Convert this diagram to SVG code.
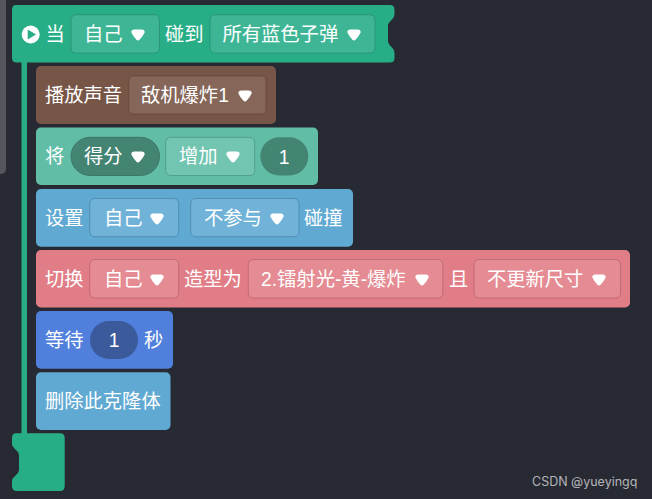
<svg xmlns="http://www.w3.org/2000/svg" width="652" height="499" viewBox="0 0 652 499">
<style>
text{font-family:"Noto Sans CJK SC","Liberation Sans",sans-serif;font-size:19.3px;fill:#fff}
.n{font-family:"Liberation Sans","Noto Sans CJK SC",sans-serif}
.f{stroke-width:1;rx:5px}
</style>
<defs><path id="tri" d="M-3.5 -5.6H3.5Q7 -5.6 6.6 -2.6Q5 1 1.6 4.8Q0 6.2 -1.6 4.8Q-5 1 -6.6 -2.6Q-7 -5.6 -3.5 -5.6Z" fill="#fff"/></defs>
<rect width="652" height="499" fill="#282a33"/>
<path d="M0 0H6V169Q6 174 0 174Z" fill="#55565c"/>
<g id="connectors"><rect x="21.5" y="60" width="5.5" height="376" fill="#28ae87"/></g>
<g id="hat">
<path d="M16 5H390Q394.5 5 394.5 10V14Q394.5 17 392 19.5L390 21.5Q388 23.5 388 26V41Q388 43.5 390 45.5L392 47.5Q394.5 50 394.5 53V58Q394.5 62.5 390 62.5H17Q12 62.5 12 58V10Q12 5 16 5Z" fill="#28ae87"/>
<circle cx="30.7" cy="34.5" r="9" fill="#fff"/><path d="M27.7 29.5V39.5L36 34.5Z" fill="#28ae87"/>
<text x="45.5" y="41">当</text>
<rect class="f" x="71" y="14.7" width="88.5" height="38.5" fill="#3eb696" stroke="#2a9577"/>
<text x="84" y="41">自己</text><use href="#tri" x="138" y="35"/>
<text x="165" y="41">碰到</text>
<rect class="f" x="210" y="14.7" width="165" height="38.5" fill="#3eb696" stroke="#2a9577"/>
<text x="222.5" y="41">所有蓝色子弹</text><use href="#tri" x="354" y="35"/>
</g>
<g id="sound">
<rect x="36" y="66" width="240" height="58" rx="5" fill="#785647"/>
<text x="45" y="102">播放声音</text>
<rect class="f" x="128.7" y="75.9" width="137.5" height="38.3" fill="#856659" stroke="#644a3e"/>
<text x="141" y="102">敌机爆炸<tspan class="n">1</tspan></text><use href="#tri" x="245" y="96"/>
</g>
<g id="score">
<rect x="36" y="127.5" width="282" height="57.5" rx="5" fill="#62bda7"/>
<text x="45" y="163">将</text>
<rect x="71" y="137.3" width="88.5" height="38.2" rx="19" fill="#448473" stroke="#3d7767"/>
<text x="84" y="163">得分</text><use href="#tri" x="138" y="157"/>
<rect class="f" x="165.7" y="137.3" width="89" height="38.2" fill="#72c5b1" stroke="#529d8c"/>
<text x="179" y="163">增加</text><use href="#tri" x="233" y="157"/>
<rect x="260.3" y="137.3" width="48" height="38.2" rx="19" fill="#448473"/>
<text class="n" x="284" y="164" text-anchor="middle">1</text>
</g>
<g id="collide">
<rect x="36" y="189" width="317" height="57.7" rx="5" fill="#60a9d3"/>
<text x="45" y="225">设置</text>
<rect class="f" x="89.7" y="198.5" width="89" height="38.3" fill="#70b2d8" stroke="#518fb3"/>
<text x="104" y="225">自己</text><use href="#tri" x="157" y="219"/>
<rect class="f" x="190.7" y="198.5" width="108.3" height="38.3" fill="#70b2d8" stroke="#518fb3"/>
<text x="204" y="225">不参与</text><use href="#tri" x="277" y="219"/>
<text x="304" y="225">碰撞</text>
</g>
<g id="costume">
<rect x="36" y="250" width="594" height="57.5" rx="5" fill="#e17d86"/>
<text x="45" y="286">切换</text>
<rect class="f" x="89.7" y="259.5" width="89" height="38.6" fill="#e58b93" stroke="#c26b74"/>
<text x="104" y="286">自己</text><use href="#tri" x="157" y="280"/>
<text x="184" y="286">造型为</text>
<rect class="f" x="248.3" y="259.5" width="194.5" height="38.6" fill="#e58b93" stroke="#c26b74"/>
<text x="261" y="286"><tspan class="n">2.</tspan>镭射光<tspan class="n">-</tspan>黄<tspan class="n">-</tspan>爆炸</text><use href="#tri" x="422" y="280"/>
<text x="449" y="286">且</text>
<rect class="f" x="474" y="259.5" width="146.5" height="38.6" fill="#e58b93" stroke="#c26b74"/>
<text x="487" y="286">不更新尺寸</text><use href="#tri" x="599" y="280"/>
</g>
<g id="wait">
<rect x="36" y="311" width="137" height="57.7" rx="5" fill="#507fdc"/>
<text x="45" y="347">等待</text>
<rect x="90" y="321" width="48" height="38" rx="19" fill="#3a5a9b"/>
<text class="n" x="114" y="347" text-anchor="middle">1</text>
<text x="144" y="347">秒</text>
</g>
<g id="delete">
<rect x="36" y="372.3" width="134.5" height="57.7" rx="5" fill="#60a9d3"/>
<text x="45" y="408">删除此克隆体</text>
</g>
<g id="foot">
<path d="M16 433.3H60Q64.7 433.3 64.7 438V486Q64.7 491 60 491H17Q12 491 12 486V481Q12 478.5 14.5 476.5L17 474Q19 472 19 470V455Q19 453 17 451L14.5 448.5Q12 446.5 12 444V438Q12 433.3 16 433.3Z" fill="#28ae87"/>
</g>
<text x="532" y="486" style="font-family:'Inter','Noto Sans',sans-serif;font-size:12.5px;fill:#b4b4b8">CSDN @yueyingq</text>
</svg>
